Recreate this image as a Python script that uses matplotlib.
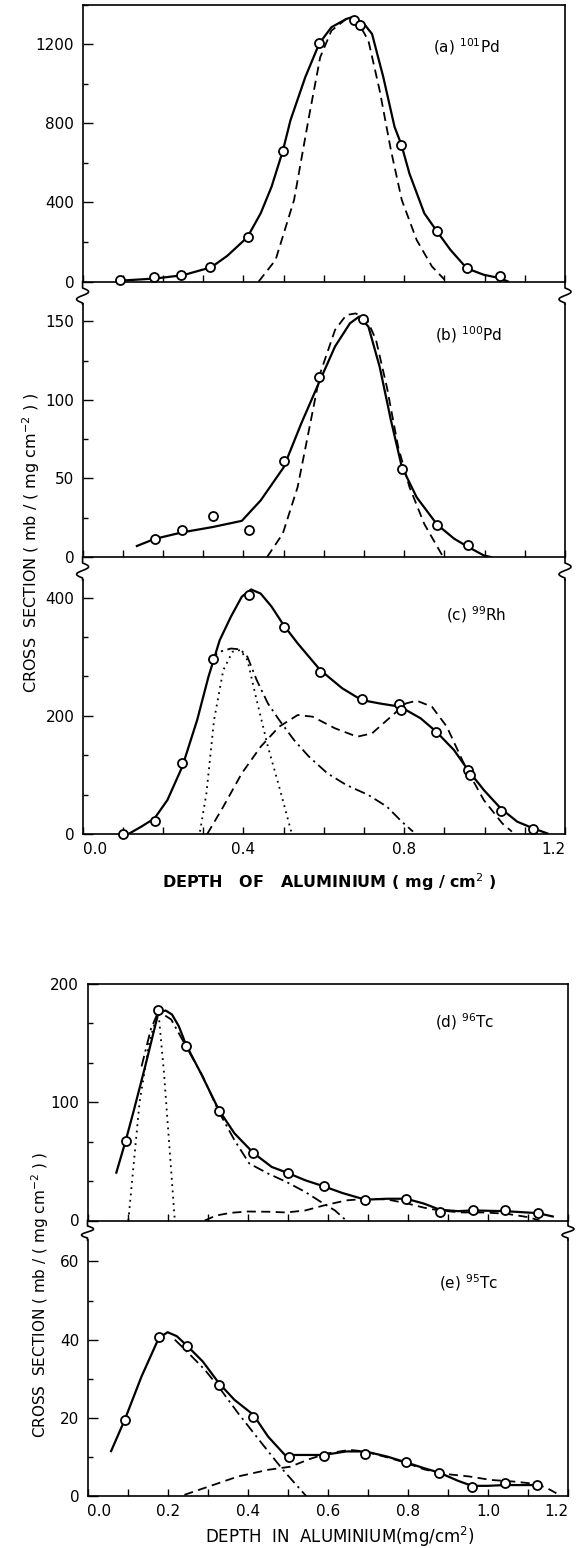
import matplotlib
matplotlib.use('Agg')
import matplotlib.pyplot as plt
from matplotlib.lines import Line2D
from matplotlib.ticker import MultipleLocator
import numpy as np

plt.rcParams.update({'font.family': 'DejaVu Sans', 'font.size': 11})

# ---- (a) 101Pd ----
a_pts_x = [0.093, 0.177, 0.246, 0.316, 0.412, 0.498, 0.589, 0.674, 0.691, 0.793, 0.881, 0.956, 1.038]
a_pts_y = [8, 22, 34, 72, 224, 660, 1205, 1323, 1299, 692, 255, 66, 27]
a_fit_x = [0.10, 0.18, 0.25, 0.32, 0.36, 0.41, 0.443, 0.47, 0.498, 0.517, 0.554, 0.589, 0.619, 0.656,
           0.669, 0.697, 0.72, 0.748, 0.776, 0.793, 0.813, 0.85, 0.881, 0.915, 0.956, 0.998, 1.038, 1.058]
a_fit_y = [5, 15, 32, 72, 130, 224, 345, 479, 660, 815, 1034, 1205, 1286, 1328,
           1336, 1311, 1252, 1034, 782, 692, 546, 345, 255, 160, 66, 34, 17, 0]
a_dash_x = [0.438, 0.48, 0.526, 0.563, 0.591, 0.619, 0.656, 0.683, 0.711, 0.739, 0.767, 0.794, 0.831, 0.869, 0.9]
a_dash_y = [0, 109, 412, 832, 1134, 1269, 1328, 1319, 1218, 966, 664, 412, 210, 76, 10]

# ---- (b) 100Pd ----
b_pts_x = [0.179, 0.248, 0.325, 0.415, 0.5, 0.589, 0.697, 0.794, 0.882, 0.959]
b_pts_y = [11.5, 17.4, 26.1, 17, 61, 114.3, 151.3, 56.3, 20.6, 7.4]
b_fit_x = [0.135, 0.179, 0.248, 0.322, 0.396, 0.443, 0.5, 0.544, 0.589, 0.628, 0.665, 0.688, 0.711,
           0.739, 0.767, 0.794, 0.831, 0.882, 0.924, 0.959, 0.998, 1.015]
b_fit_y = [7, 11.5, 15.7, 19, 23, 36, 57, 85, 111.5, 134, 148.7, 153, 146.6,
           121, 87, 57.4, 38, 20.6, 11.7, 6.4, 1, 0]
b_dash_x = [0.459, 0.498, 0.535, 0.563, 0.591, 0.628, 0.656, 0.679, 0.706, 0.73, 0.757, 0.785, 0.813, 0.85, 0.896]
b_dash_y = [0, 14.9, 44.6, 80.7, 116.9, 144.5, 154, 155, 152, 138, 108, 70, 44.6, 21, 0.4]

# ---- (c) 99Rh ----
c_pts_x = [0.1, 0.179, 0.248, 0.324, 0.413, 0.5, 0.591, 0.694, 0.788, 0.792, 0.88, 0.959, 0.963, 1.04, 1.121]
c_pts_y = [0, 22.6, 119.6, 295.6, 404.5, 349.8, 274.8, 228, 220, 210, 172, 108, 100, 39.5, 9]
c_fit_x = [0.114, 0.146, 0.179, 0.211, 0.248, 0.285, 0.313, 0.341, 0.369, 0.396, 0.419, 0.443, 0.47,
           0.5, 0.535, 0.591, 0.646, 0.694, 0.739, 0.79, 0.841, 0.88, 0.924, 0.959, 0.998, 1.04,
           1.081, 1.121, 1.156]
c_fit_y = [0, 12.4, 26.5, 57.5, 114, 193, 266, 328, 368, 401.7, 414, 407, 385,
           353.7, 322.7, 277.6, 246.6, 226.8, 221, 215.5, 195.8, 173, 142, 108, 74.5, 43.4,
           20.9, 9.6, 1]
c_chain_x = [0.313, 0.341, 0.369, 0.392, 0.41, 0.433, 0.461, 0.489, 0.526, 0.563, 0.609, 0.656, 0.711, 0.757, 0.794, 0.822]
c_chain_y = [294.5, 308.6, 314, 312.6, 300, 260.7, 221, 193, 159, 131, 102.7, 83, 66, 46.3, 20.9, 4]
c_dot_x = [0.292, 0.308, 0.327, 0.35, 0.373, 0.392, 0.41, 0.433, 0.461, 0.489, 0.519]
c_dot_y = [4, 68.8, 193, 277.6, 308.6, 311.4, 294.5, 226.8, 147.8, 80, 4]
c_dash_x = [0.31, 0.35, 0.396, 0.443, 0.489, 0.535, 0.572, 0.628, 0.683, 0.72, 0.767, 0.804, 0.831,
            0.869, 0.906, 0.952, 0.998, 1.044, 1.068]
c_dash_y = [0, 46.3, 102.7, 147.8, 181.7, 201.4, 198.6, 178.9, 164.7, 170.4, 198.6, 221, 225.7,
            215.5, 181.7, 114, 57.5, 18, 4]

# ---- (d) 96Tc ----
d_pts_x = [0.095, 0.177, 0.246, 0.328, 0.414, 0.5, 0.59, 0.694, 0.796, 0.88, 0.962, 1.043, 1.125]
d_pts_y = [67.1, 177.9, 147.3, 92.9, 56.7, 40.2, 28.9, 17, 17.8, 7.1, 8.5, 8.5, 6.2]
d_fit_x = [0.072, 0.095, 0.116, 0.144, 0.177, 0.195, 0.211, 0.228, 0.246, 0.283, 0.328, 0.367, 0.414,
           0.46, 0.5, 0.544, 0.59, 0.637, 0.694, 0.748, 0.796, 0.841, 0.88, 0.925, 0.962, 1.043,
           1.125, 1.162]
d_fit_y = [40.5, 67, 93.5, 130.3, 175.6, 177.6, 174.2, 164.3, 148.7, 124.6, 93.5, 73.7, 57.2,
           45.3, 40.2, 34, 28.9, 23.2, 17.6, 18.4, 18.4, 14.2, 9.1, 7.9, 8.5, 7.9,
           6.2, 3.4]
d_dot_x = [0.102, 0.13, 0.155, 0.177, 0.191, 0.204, 0.218]
d_dot_y = [0, 100, 152, 177, 125, 65, 0]
d_chain_x = [0.135, 0.158, 0.177, 0.209, 0.246, 0.288, 0.33, 0.367, 0.404, 0.451, 0.497, 0.544, 0.59, 0.618, 0.646]
d_chain_y = [130.3, 161.5, 177, 170, 147.3, 121.8, 90.7, 68, 48.2, 39.7, 32.6, 24.1, 14.2, 8.5, 0]
d_dash_x = [0.293, 0.321, 0.358, 0.4, 0.451, 0.497, 0.544, 0.59, 0.646, 0.697, 0.748, 0.795, 0.841,
            0.878, 0.934, 0.99, 1.046, 1.101, 1.129]
d_dash_y = [0, 4.2, 6.5, 7.6, 7.4, 6.8, 8.5, 12.7, 17, 18.4, 17.8, 14.7, 10.8,
            8.5, 6.8, 6.8, 5.7, 2.8, 0]

# ---- (e) 95Tc ----
e_pts_x = [0.093, 0.178, 0.248, 0.328, 0.414, 0.502, 0.59, 0.694, 0.796, 0.878, 0.96, 1.043, 1.123]
e_pts_y = [19.5, 40.7, 38.3, 28.4, 20.3, 10.1, 10.3, 10.8, 8.6, 6, 2.4, 3.4, 2.8]
e_fit_x = [0.059, 0.093, 0.135, 0.178, 0.2, 0.223, 0.248, 0.288, 0.328, 0.367, 0.414, 0.451, 0.493,
           0.544, 0.59, 0.646, 0.694, 0.748, 0.796, 0.841, 0.878, 0.925, 0.96, 0.999, 1.043, 1.123]
e_fit_y = [11.5, 19.5, 30.6, 40.4, 41.9, 40.9, 38.5, 34.4, 28.9, 24.6, 20.8, 15.2, 10.5,
           10.5, 10.5, 11.4, 11.4, 10.1, 8.6, 7.1, 6, 3.9, 2.6, 2.6, 2.8, 2.8]
e_chain_x = [0.218, 0.248, 0.293, 0.33, 0.376, 0.432, 0.488, 0.546]
e_chain_y = [40, 37, 32.3, 27.6, 21.2, 13.9, 6.7, 0]
e_dash_x = [0.242, 0.302, 0.376, 0.451, 0.507, 0.553, 0.599, 0.655, 0.692, 0.748, 0.795, 0.841,
            0.897, 0.953, 1.008, 1.064, 1.12, 1.148, 1.171]
e_dash_y = [0.3, 2.4, 5, 6.7, 7.5, 9.4, 10.9, 11.8, 11.4, 9.9, 8.5, 6.8,
            5.6, 5, 4.1, 3.7, 3.1, 2, 0.7]

W, H = 584, 1548
fig = plt.figure(figsize=(W / 100, H / 100), dpi=100)


def px_axes(l, t, r, b):
    return fig.add_axes([l / W, 1 - b / H, (r - l) / W, (b - t) / H])


DASH = (0, (5, 3))
DOT = (0, (1, 2.5))
CHAIN = (0, (6, 2.5, 1.2, 2.5))


def style(ax, ylim, yticks, yminor, top=False, labels=False, xmajor=0.4):
    ax.set_xlim(0, 1.2)
    ax.set_ylim(*ylim)
    ax.set_yticks(yticks)
    ax.yaxis.set_minor_locator(MultipleLocator(yminor))
    ax.xaxis.set_major_locator(MultipleLocator(xmajor))
    ax.xaxis.set_minor_locator(MultipleLocator(0.1))
    ax.tick_params(axis='x', which='both', direction='in', length=5, width=1,
                   labelbottom=labels, labelsize=11, pad=6)
    ax.tick_params(axis='y', which='major', direction='in', length=7, width=1,
                   labelsize=11, pad=6)
    ax.tick_params(axis='y', which='minor', direction='in', length=3.5, width=1)
    for s in ax.spines.values():
        s.set_linewidth(1.2)
    ax.spines['top'].set_visible(top)
    ax.set_facecolor('none')


def draw(ax, px, py, fx, fy, extra):
    for xs, ys, ls in extra:
        ax.plot(xs, ys, color='black', lw=1.3, ls=ls)
    ax.plot(fx, fy, color='black', lw=1.6)
    ax.plot(px, py, 'o', ms=6.5, mfc='white', mec='black', mew=1.3,
            clip_on=False, zorder=5)


def squiggle(x, y0, y1, y2, y3, amp=6):
    t = np.linspace(0, 1, 40)
    xs = [x, x] + list(x + amp * np.sin(2 * np.pi * t)) + [x, x]
    ys = [y0, y1] + list(y1 + (y2 - y1) * t) + [y2, y3]
    fig.add_artist(Line2D(np.array(xs) / W, 1 - np.array(ys) / H,
                          transform=fig.transFigure, color='black', lw=1.2))


# top group
L1, R1 = 82.6, 565
axa = px_axes(L1, 4.7, R1, 281.5)
axb = px_axes(L1, 304, R1, 557)
axc = px_axes(L1, 580, R1, 834)
style(axa, (0, 1400), [0, 400, 800, 1200], 200, top=True)
style(axb, (0, 161), [0, 50, 100, 150], 25)
style(axc, (0, 430), [0, 200, 400], 200 / 3, labels=True)
axc.set_xticks([0.0, 0.4, 0.8, 1.2])
axc.set_xticklabels(['0.0', '0.4', '0.8', '1.2'])

draw(axa, a_pts_x, a_pts_y, a_fit_x, a_fit_y, [(a_dash_x, a_dash_y, DASH)])
draw(axb, b_pts_x, b_pts_y, b_fit_x, b_fit_y, [(b_dash_x, b_dash_y, DASH)])
draw(axc, c_pts_x, c_pts_y, c_fit_x, c_fit_y,
     [(c_dash_x, c_dash_y, DASH), (c_dot_x, c_dot_y, DOT), (c_chain_x, c_chain_y, CHAIN)])

# bottom group
L2, R2 = 87.5, 568
axd = px_axes(L2, 984, R2, 1220.5)
axe = px_axes(L2, 1240, R2, 1496)
style(axd, (0, 200), [0, 100, 200], 100 / 3, top=True, xmajor=0.2)
style(axe, (0, 65.5), [0, 20, 40, 60], 10, labels=True, xmajor=0.2)
axe.set_xticks([0.0, 0.2, 0.4, 0.6, 0.8, 1.0, 1.2])
axe.set_xticklabels(['0.0', '0.2', '0.4', '0.6', '0.8', '1.0', '1.2'])

draw(axd, d_pts_x, d_pts_y, d_fit_x, d_fit_y,
     [(d_dash_x, d_dash_y, DASH), (d_dot_x, d_dot_y, DOT), (d_chain_x, d_chain_y, CHAIN)])
draw(axe, e_pts_x, e_pts_y, e_fit_x, e_fit_y,
     [(e_dash_x, e_dash_y, DASH), (e_chain_x, e_chain_y, CHAIN)])

for ax in (axc, axe):
    lbls = ax.get_xticklabels()
    lbls[0].set_ha('left')
    lbls[-1].set_ha('right')

# axis breaks
for x in (L1, R1):
    squiggle(x, 281.5, 288, 303, 304)
    squiggle(x, 557, 563, 578, 580)
for x in (L2, R2):
    squiggle(x, 1220.5, 1226, 1238, 1240)


def ftext(x, y, s, **kw):
    fig.text(x / W, 1 - y / H, s, **kw)


ftext(433, 47, r'(a) $^{101}$Pd', va='center', fontsize=11)
ftext(435, 335, r'(b) $^{100}$Pd', va='center', fontsize=11)
ftext(446, 615, r'(c) $^{99}$Rh', va='center', fontsize=11)
ftext(435, 1022, r'(d) $^{96}$Tc', va='center', fontsize=11)
ftext(439, 1283, r'(e) $^{95}$Tc', va='center', fontsize=11)

ylab = r'CROSS  SECTION ( mb / ( mg cm$^{-2}$ ) )'
ftext(31, 543, ylab, rotation=90, ha='center', va='center', fontsize=11.5)
ftext(40, 1295, ylab, rotation=90, ha='center', va='center', fontsize=11)
ftext(329, 882, r'DEPTH   OF   ALUMINIUM ( mg / cm$^2$ )', ha='center', va='center',
      fontsize=11.5, fontweight='bold')
ftext(340, 1537, r'DEPTH  IN  ALUMINIUM(mg/cm$^2$)', ha='center', va='center', fontsize=12)

plt.savefig('out.png', dpi=100)
